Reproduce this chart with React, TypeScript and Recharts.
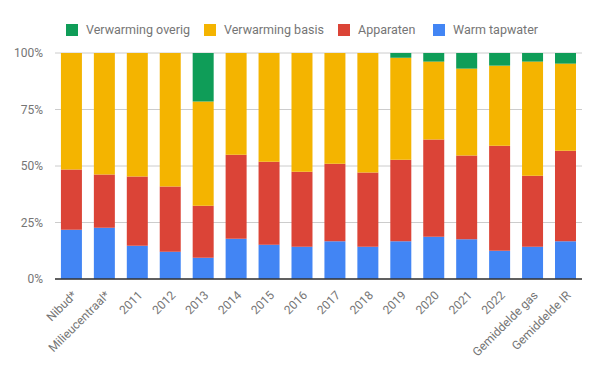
import React from 'react';
import { BarChart, Bar, XAxis, YAxis, CartesianGrid } from 'recharts';

const categories = [
  'Nibud*', 'Milieucentraal*', '2011', '2012', '2013', '2014', '2015', '2016',
  '2017', '2018', '2019', '2020', '2021', '2022', 'Gemiddelde gas', 'Gemiddelde IR',
];
const warmTapwater = [21.8, 22.7, 14.7, 12.1, 9.4, 17.8, 15.2, 14.3, 16.7, 14.3, 16.7, 18.7, 17.6, 12.5, 14.3, 16.7];
const apparaten = [26.6, 23.5, 30.6, 28.8, 23.0, 37.2, 36.7, 33.2, 34.3, 32.8, 36.1, 43.0, 37.0, 46.5, 31.4, 40.1];
const verwarmingBasis = [51.6, 53.8, 54.7, 59.1, 46.1, 45.0, 48.1, 52.5, 49.0, 52.9, 45.1, 34.5, 38.5, 35.4, 50.5, 38.5];
const verwarmingOverig = [0, 0, 0, 0, 21.5, 0, 0, 0, 0, 0, 2.1, 3.8, 6.9, 5.6, 3.8, 4.7];
const yTicks = [0, 25, 50, 75, 100];

const data = categories.map((name, i) => ({
  name,
  warm: warmTapwater[i],
  app: apparaten[i],
  basis: verwarmingBasis[i],
  overig: verwarmingOverig[i],
}));

const legendItems = [
  { label: 'Verwarming overig', color: '#0F9D58', x: 66 },
  { label: 'Verwarming basis', color: '#F4B400', x: 204 },
  { label: 'Apparaten', color: '#DB4437', x: 338 },
  { label: 'Warm tapwater', color: '#4285F4', x: 433 },
];

const FONT = 'Roboto, Arial, sans-serif';

const XTick = (props: any) => {
  const { x, y, payload } = props;
  return (
    <text
      x={x + 6}
      y={y + 9}
      transform={`rotate(-45, ${x + 6}, ${y + 9})`}
      textAnchor="end"
      fontSize={12}
      fontFamily={FONT}
      fill="#757575"
    >
      {payload.value}
    </text>
  );
};

export default function App() {
  return (
    <div style={{ position: 'absolute', left: 0, top: 0, width: 600, height: 371, background: '#fff' }}>
      {legendItems.map((item) => (
        <div key={item.label} style={{ position: 'absolute', left: item.x, top: 24, display: 'flex', alignItems: 'center' }}>
          <div style={{ width: 12, height: 12, background: item.color }} />
          <span style={{ marginLeft: 8, fontFamily: FONT, fontSize: 12.5, color: '#757575', lineHeight: '12px' }}>
            {item.label}
          </span>
        </div>
      ))}
      <BarChart
        width={600}
        height={371}
        data={data}
        margin={{ top: 53, right: 18, bottom: 0, left: 0 }}
        barCategoryGap="18%"
      >
        <CartesianGrid vertical={false} stroke="#cccccc" />
        <XAxis
          dataKey="name"
          interval={0}
          height={92}
          tickLine={false}
          axisLine={{ stroke: '#333333', strokeWidth: 1.5 }}
          tick={<XTick />}
        />
        <YAxis
          width={55}
          domain={[0, 100]}
          ticks={yTicks}
          tickFormatter={(v: number) => `${v}%`}
          axisLine={false}
          tickLine={false}
          tickMargin={6}
          tick={{ fontSize: 12, fill: '#757575', fontFamily: FONT }}
        />
        <Bar dataKey="warm" stackId="a" fill="#4285F4" isAnimationActive={false} />
        <Bar dataKey="app" stackId="a" fill="#DB4437" isAnimationActive={false} />
        <Bar dataKey="basis" stackId="a" fill="#F4B400" isAnimationActive={false} />
        <Bar dataKey="overig" stackId="a" fill="#0F9D58" isAnimationActive={false} />
      </BarChart>
    </div>
  );
}
